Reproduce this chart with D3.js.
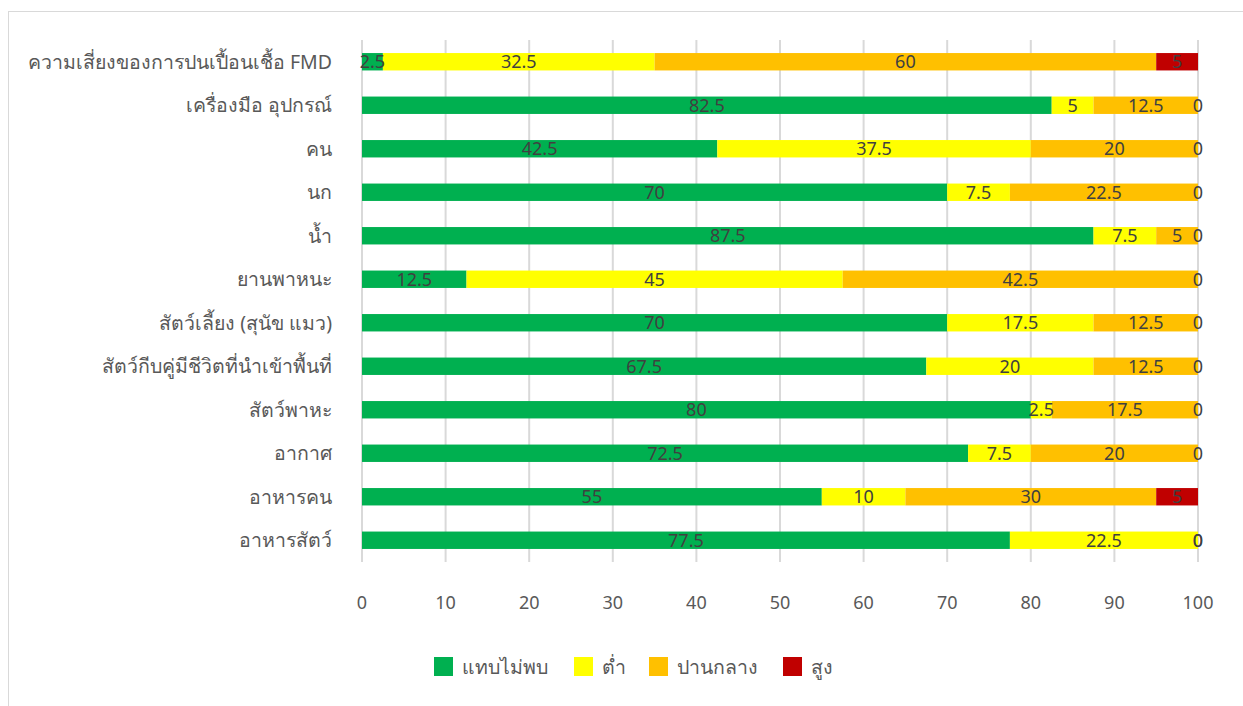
<!DOCTYPE html>
<html>
<head>
<meta charset="utf-8">
<script src="https://d3js.org/d3.v7.min.js"></script>
<style>
  body { margin: 0; background: #fff; }
  text { font-family: "Noto Sans", "Noto Sans CJK SC", sans-serif; }
</style>
</head>
<body>
<svg id="chart" width="1243" height="706"></svg>
<script>
// categories, top to bottom
var categories = [
  'ความเสี่ยงของการปนเปื้อนเชื้อ FMD',
  'เครื่องมือ อุปกรณ์',
  'คน',
  'นก',
  'น้ำ',
  'ยานพาหนะ',
  'สัตว์เลี้ยง (สุนัข แมว)',
  'สัตว์กีบคู่มีชีวิตที่นำเข้าพื้นที่',
  'สัตว์พาหะ',
  'อากาศ',
  'อาหารคน',
  'อาหารสัตว์'
];

var seriesNames = ['แทบไม่พบ', 'ต่ำ', 'ปานกลาง', 'สูง'];
var seriesColors = ['#00b050', '#ffff00', '#ffc000', '#c00000'];

var rare   = [2.5, 82.5, 42.5, 70, 87.5, 12.5, 70, 67.5, 80, 72.5, 55, 77.5];
var low    = [32.5, 5, 37.5, 7.5, 7.5, 45, 17.5, 20, 2.5, 7.5, 10, 22.5];
var medium = [60, 12.5, 20, 22.5, 5, 42.5, 12.5, 12.5, 17.5, 20, 30, 0];
var high   = [5, 0, 0, 0, 0, 0, 0, 0, 0, 0, 5, 0];

var xTicks = [0, 10, 20, 30, 40, 50, 60, 70, 80, 90, 100];

var svg = d3.select('#chart');

// chart border
svg.append('rect')
  .attr('x', 8.5).attr('y', 11.5)
  .attr('width', 1260).attr('height', 720)
  .attr('fill', 'none').attr('stroke', '#d9d9d9');

var plotLeft = 362, plotRight = 1198, plotTop = 40, plotBottom = 562;

var x = d3.scaleLinear().domain([0, 100]).range([plotLeft, plotRight]);
var y = d3.scaleBand().domain(categories).range([plotTop, plotBottom]).paddingInner(0.6).paddingOuter(0.3);

// build stack table
var table = categories.map(function (c, i) {
  return { cat: c, s0: rare[i], s1: low[i], s2: medium[i], s3: high[i] };
});
var stack = d3.stack().keys(['s0', 's1', 's2', 's3'])(table);

// gridlines
svg.append('g').selectAll('line').data(xTicks).enter().append('line')
  .attr('x1', function (d) { return x(d); }).attr('x2', function (d) { return x(d); })
  .attr('y1', plotTop).attr('y2', plotBottom)
  .attr('stroke', '#d9d9d9').attr('stroke-width', 2);

// x tick labels
svg.append('g').selectAll('text').data(xTicks).enter().append('text')
  .attr('x', function (d) { return x(d); })
  .attr('y', 609)
  .attr('text-anchor', 'middle')
  .attr('font-size', 18)
  .attr('fill', '#595959')
  .text(function (d) { return d; });

// bars
var groups = svg.append('g').selectAll('g').data(stack).enter().append('g')
  .attr('fill', function (d, i) { return seriesColors[i]; });

groups.selectAll('rect').data(function (d) { return d; }).enter().append('rect')
  .attr('x', function (d) { return x(d[0]); })
  .attr('y', function (d) { return y(d.data.cat); })
  .attr('width', function (d) { return x(d[1]) - x(d[0]); })
  .attr('height', y.bandwidth());

// data labels
var labels = svg.append('g');
stack.forEach(function (s) {
  labels.selectAll(null).data(s).enter().append('text')
    .attr('x', function (d) { return x((d[0] + d[1]) / 2); })
    .attr('y', function (d) { return y(d.data.cat) + y.bandwidth() / 2; })
    .attr('dy', '0.36em')
    .attr('text-anchor', 'middle')
    .attr('font-size', 18)
    .attr('fill', '#404040')
    .text(function (d) { return d[1] - d[0]; });
});

// category labels
svg.append('g').selectAll('text').data(categories).enter().append('text')
  .attr('x', 332)
  .attr('y', function (d) { return y(d) + y.bandwidth() / 2; })
  .attr('dy', '0.36em')
  .attr('text-anchor', 'end')
  .attr('font-size', 19.5)
  .attr('fill', '#595959')
  .text(function (d) { return d; });

// legend
var legendX = [434, 574, 649, 783];
var legend = svg.append('g').selectAll('g').data(seriesNames).enter().append('g')
  .attr('transform', function (d, i) { return 'translate(' + legendX[i] + ',657)'; });
legend.append('rect')
  .attr('width', 19).attr('height', 19)
  .attr('fill', function (d, i) { return seriesColors[i]; });
legend.append('text')
  .attr('x', 28).attr('y', 9.5).attr('dy', '0.36em')
  .attr('font-size', 19.5).attr('fill', '#595959')
  .text(function (d) { return d; });
</script>
</body>
</html>
